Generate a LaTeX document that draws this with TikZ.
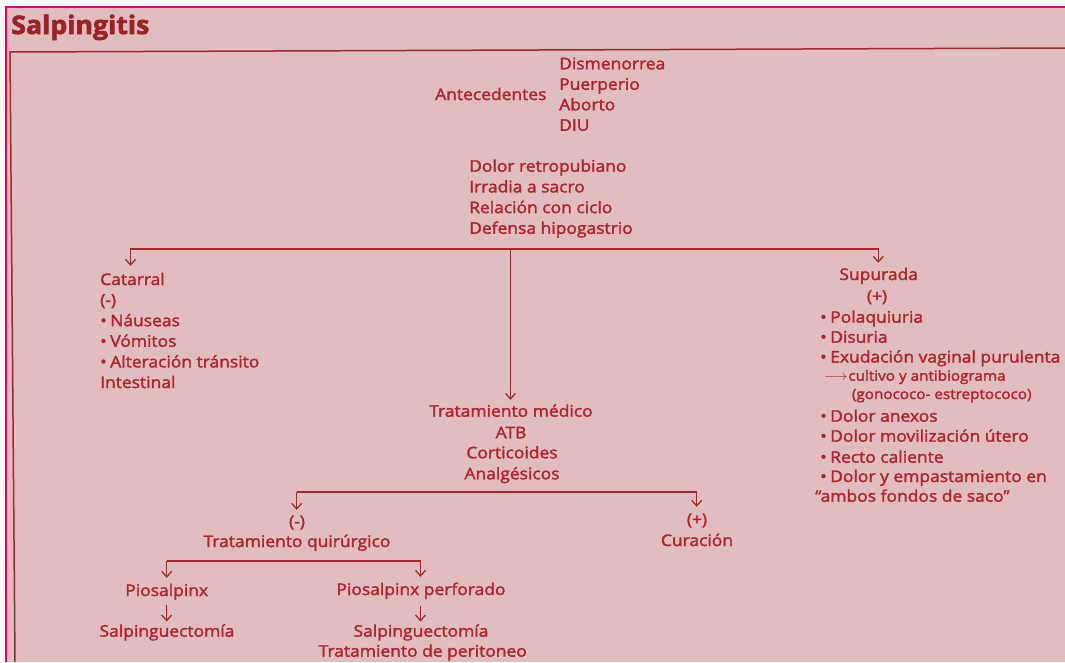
\documentclass[tikz,border=0pt]{standalone}
\usepackage{fontspec}
\newfontfamily\bodyfont{Open Sans}[FakeBold=2,FakeStretch=1.09]
\newfontfamily\titlefont{Open Sans}[FakeStretch=1.05,BoldFeatures={FakeBold=2.5}]
\usetikzlibrary{arrows.meta}
\definecolor{bgpink}{RGB}{224,190,191}
\definecolor{txtred}{RGB}{176,36,46}
\definecolor{linered}{RGB}{165,38,44}
\definecolor{framemag}{RGB}{214,10,110}
\definecolor{titlered}{RGB}{155,34,38}
\newcommand{\bul}{•\hspace{3.5pt}}
\begin{document}
\begin{tikzpicture}[x=1pt,y=-1pt,
  txt/.style={inner sep=0pt, text=txtred, font=\bodyfont\fontsize{16}{19}\selectfont, text height=11pt, text depth=3.5pt},
  smalltxt/.style={txt, font=\bodyfont\fontsize{14}{16}\selectfont},
  ln/.style={draw=linered, line width=1.3pt},
  arr/.style={ln, -{Straight Barb[length=5.5pt,width=10pt,line width=1.3pt]}},
]
\useasboundingbox (0,0) rectangle (1065,662);
\fill[white] (0,0) rectangle (1065,662);
\fill[bgpink] (6,7) rectangle (1065,662);
\draw[framemag, line width=2pt] (6,662) -- (6,7) -- (1065,7);
\draw[linered, line width=1.5pt] (15,662) -- (10,52) -- (1065,48);

\node[anchor=base west, inner sep=0pt, text=titlered, font=\titlefont\bfseries\fontsize{25.5}{30}\selectfont] (title) at (11,34) {Salpingitis};

% Antecedentes
\node[txt, anchor=base west] (ante) at (435,100) {Antecedentes};
\foreach \t [count=\i from 0] in {Dismenorrea,Puerperio,Aborto,DIU}
  \node[txt, anchor=base west] (ant\i) at (559,69.3+20.5*\i) {\t};

% Dolor
\foreach \t [count=\i from 0] in {Dolor retropubiano,Irradia a sacro,Relación con ciclo,Defensa hipogastrio}
  \node[txt, anchor=base west] (dol\i) at (469,171.7+20.7*\i) {\t};

% Catarral
\foreach \t [count=\i from 0] in {Catarral,(-),\bul Náuseas,\bul Vómitos,\bul Alteración tránsito,Intestinal}
  \node[txt, anchor=base west] (cat\i) at (100,285+20.6*\i) {\t};

% Supurada
\node[txt, anchor=base] (sup0) at (878.7,280) {Supurada};
\node[txt, anchor=base] (sup1) at (877,301.7) {(+)};
\node[txt, anchor=base west] (sup2) at (820,322.7) {\bul Polaquiuria};
\node[txt, anchor=base west] (sup3) at (820,342.7) {\bul Disuria};
\node[txt, anchor=base west] (sup4) at (820,362.5) {\bul Exudación vaginal purulenta};
\node[smalltxt, anchor=base west] (sup5) at (824,380.7) {$\longrightarrow$\hspace{1pt}cultivo y antibiograma};
\node[smalltxt, anchor=base west] (sup6) at (851.7,399) {(gonococo- estreptococo)};
\node[txt, anchor=base west] (sup7) at (820,421.7) {\bul Dolor anexos};
\node[txt, anchor=base west] (sup8) at (820,441.7) {\bul Dolor movilización útero};
\node[txt, anchor=base west] (sup9) at (820,462.7) {\bul Recto caliente};
\node[txt, anchor=base west] (sup10) at (820,482) {\bul Dolor y empastamiento en};
\node[txt, anchor=base west] (sup11) at (815,501.7) {“ambos fondos de saco”};

% Tratamiento medico
\node[txt, anchor=base] (tm0) at (511,416.7) {Tratamiento médico};
\node[txt, anchor=base] (tm1) at (511,438.3) {ATB};
\node[txt, anchor=base] (tm2) at (512,458.3) {Corticoides};
\node[txt, anchor=base] (tm3) at (512,479.3) {Analgésicos};

% second level
\node[txt, anchor=base] (neg) at (297,527) {(-)};
\node[txt, anchor=base] (tq) at (297,547) {Tratamiento quirúrgico};
\node[txt, anchor=base] (pos) at (697,525) {(+)};
\node[txt, anchor=base] (cur) at (697,546) {Curación};

% third level
\node[txt, anchor=base] (pio) at (166.7,596) {Piosalpinx};
\node[txt, anchor=base] (sal1) at (167,636.7) {Salpinguectomía};
\node[txt, anchor=base] (perf) at (421,595) {Piosalpinx perforado};
\node[txt, anchor=base] (sal2) at (421,636.7) {Salpinguectomía};
\node[txt, anchor=base] (per) at (422.8,656.7) {Tratamiento de peritoneo};

% connectors
\coordinate (b1M) at (510.5,249);
\coordinate (b1L) at (130.5,249);
\coordinate (b1R) at (878.3,249);
\draw[arr, shorten >=8pt] (b1M) -| (cat0.north -| b1L);
\draw[arr, shorten >=6pt] (b1M) -| (sup0.north -| b1R);
\draw[arr, shorten >=5.7pt] (b1M) -- (tm0.north -| b1M);

\coordinate (b2L) at (296.7,492);
\coordinate (b2R) at (696.7,492);
\draw[ln] (b2L) -- (b2R);
\draw[arr, shorten >=6pt] (b2L) -- (neg.north -| b2L);
\draw[arr, shorten >=7pt] (b2R) -- (pos.north -| b2R);

\coordinate (b3L) at (166.7,561);
\coordinate (b3R) at (420.5,561);
\draw[ln] (b3L) -- (b3R);
\draw[arr, shorten >=7pt] (b3L) -- (pio.north -| b3L);
\draw[arr, shorten >=7pt] (b3R) -- (perf.north -| b3R);

\draw[arr, shorten <=5.5pt, shorten >=4pt] (pio.south) -- (pio.south |- sal1.north);
\draw[arr, shorten <=7pt, shorten >=4pt] (perf.south -| b3R) -- (sal2.north -| b3R);
\end{tikzpicture}
\end{document}
